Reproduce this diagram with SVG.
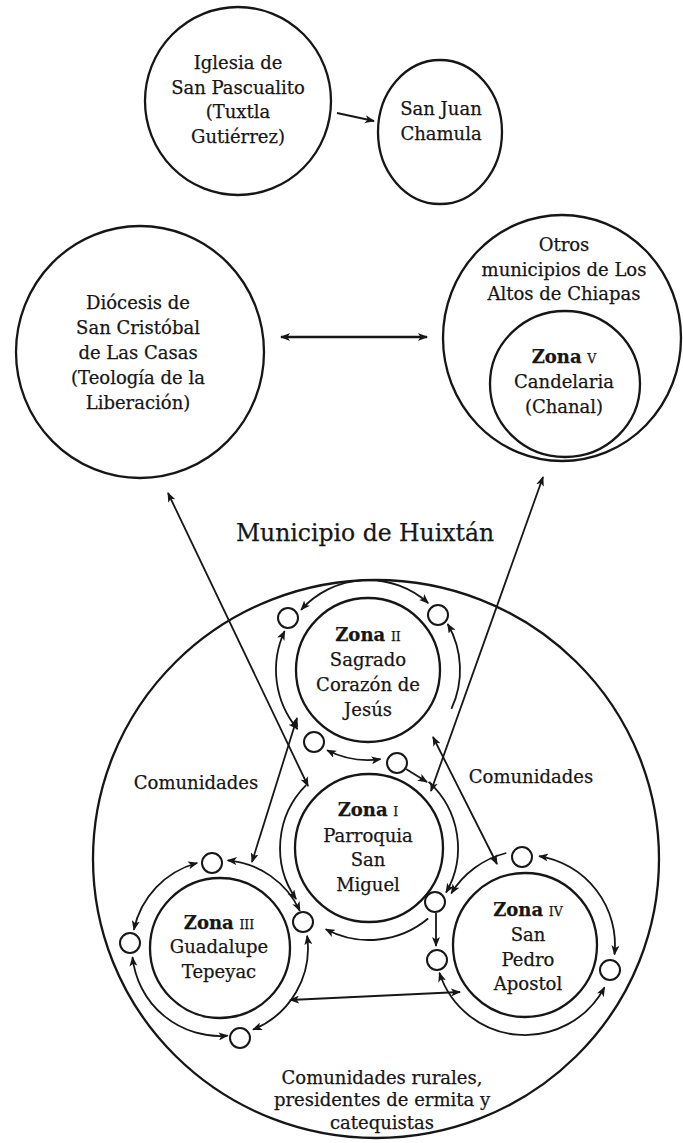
<svg xmlns="http://www.w3.org/2000/svg" width="683" height="1143" viewBox="0 0 683 1143">
<style>
.ln{fill:none;stroke:#161616;stroke-width:2.3}
.sm{fill:#fff;stroke:#161616;stroke-width:2}
.ar{fill:none;stroke:#161616;stroke-width:1.8}
.t{font-family:"DejaVu Serif","Liberation Serif",serif;font-size:18px;fill:#161616;stroke:#161616;stroke-width:0.25;text-anchor:middle}
.b{font-weight:bold}
.sc{font-size:12.5px}
</style>
<defs>
<marker id="ah" viewBox="0 0 10 8" refX="9" refY="4" markerWidth="10" markerHeight="8" markerUnits="userSpaceOnUse" orient="auto-start-reverse">
<path d="M0,0 L10,4 L0,8 L2.5,4 z" fill="#161616"/>
</marker>
</defs>
<rect width="683" height="1143" fill="#fff"/>

<g id="iglesia">
<ellipse class="ln" cx="238" cy="101" rx="93" ry="94"/>
<text class="t" x="238" y="69">Iglesia de</text>
<text class="t" x="238" y="94">San Pascualito</text>
<text class="t" x="238" y="118">(Tuxtla</text>
<text class="t" x="238" y="143">Gutiérrez)</text>
</g>
<g id="sanjuan">
<ellipse class="ln" cx="440" cy="132" rx="62" ry="72"/>
<text class="t" x="441" y="115">San Juan</text>
<text class="t" x="441" y="140">Chamula</text>
</g>
<g id="diocesis">
<ellipse class="ln" cx="140" cy="352" rx="124" ry="126"/>
<text class="t" x="138" y="309">Diócesis de</text>
<text class="t" x="138" y="334">San Cristóbal</text>
<text class="t" x="138" y="359">de Las Casas</text>
<text class="t" x="138" y="384">(Teología de la</text>
<text class="t" x="138" y="409">Liberación)</text>
</g>
<g id="otros">
<ellipse class="ln" cx="562" cy="338" rx="119" ry="123"/>
<text class="t" x="564" y="251">Otros</text>
<text class="t" x="564" y="276">municipios de Los</text>
<text class="t" x="564" y="300">Altos de Chiapas</text>
</g>
<g id="zona5">
<ellipse class="ln" cx="565" cy="384" rx="75" ry="73"/>
<text class="t" x="564" y="363"><tspan class="b">Zona</tspan> <tspan class="sc">V</tspan></text>
<text class="t" x="564" y="388">Candelaria</text>
<text class="t" x="564" y="413">(Chanal)</text>
</g>
<g id="huixtan">
<ellipse class="ln" cx="376" cy="859" rx="283" ry="279"/>
<text class="t" x="365" y="541" style="font-size:23.5px">Municipio de Huixtán</text>
<text class="t" x="196" y="789">Comunidades</text>
<text class="t" x="531" y="783">Comunidades</text>
<text class="t" x="382" y="1084">Comunidades rurales,</text>
<text class="t" x="382" y="1106">presidentes de ermita y</text>
<text class="t" x="382" y="1129">catequistas</text>
</g>
<g id="zona2">
<circle class="ln" cx="368" cy="670" r="72"/>
<text class="t" x="368" y="641"><tspan class="b">Zona</tspan> <tspan class="sc">II</tspan></text>
<text class="t" x="368" y="666">Sagrado</text>
<text class="t" x="368" y="691">Corazón de</text>
<text class="t" x="368" y="716">Jesús</text>
</g>
<g id="zona1">
<circle class="ln" cx="369" cy="848" r="74"/>
<text class="t" x="368" y="816"><tspan class="b">Zona</tspan> <tspan class="sc">I</tspan></text>
<text class="t" x="368" y="842">Parroquia</text>
<text class="t" x="368" y="866">San</text>
<text class="t" x="368" y="891">Miguel</text>
</g>
<g id="zona3">
<circle class="ln" cx="220" cy="948" r="70"/>
<text class="t" x="219" y="929"><tspan class="b">Zona</tspan> <tspan class="sc">III</tspan></text>
<text class="t" x="219" y="953">Guadalupe</text>
<text class="t" x="219" y="978">Tepeyac</text>
</g>
<g id="zona4">
<circle class="ln" cx="525" cy="945" r="72"/>
<text class="t" x="528" y="916"><tspan class="b">Zona</tspan> <tspan class="sc">IV</tspan></text>
<text class="t" x="528" y="941">San</text>
<text class="t" x="528" y="966">Pedro</text>
<text class="t" x="528" y="990">Apostol</text>
</g>

<g id="connectors">
<path class="ar" d="M337,113 L374,121" marker-end="url(#ah)"/>
<path class="ar" style="stroke-width:2.6" d="M281,337 L427,337" marker-start="url(#ah)" marker-end="url(#ah)"/>
<path class="ar" d="M168,493 L308,786" marker-start="url(#ah)" marker-end="url(#ah)"/>
<path class="ar" d="M543,477 L431,791" marker-start="url(#ah)" marker-end="url(#ah)"/>
<path class="ar" d="M297,718 L252,862" marker-start="url(#ah)" marker-end="url(#ah)"/>
<path class="ar" d="M433,737 L497,864" marker-start="url(#ah)" marker-end="url(#ah)"/>
<path class="ar" d="M290,1000 L460,992" marker-start="url(#ah)" marker-end="url(#ah)"/>
<path class="ar" d="M301.1,609.8 A90,90 0 0 1 428.2,603.1" marker-start="url(#ah)" marker-end="url(#ah)"/>
<path class="ar" d="M284.6,631.1 A92,92 0 0 0 297.5,729.1" marker-start="url(#ah)" marker-end="url(#ah)"/>
<path class="ar" d="M447.7,624 A92,92 0 0 1 451.4,708.9" marker-start="url(#ah)"/>
<path class="ar" d="M327.1,750.2 A90,90 0 0 0 380.5,759.1" marker-start="url(#ah)" marker-end="url(#ah)"/>
<path class="ar" d="M406,769 L427,782" marker-end="url(#ah)"/>
<path class="ar" d="M306.1,785.1 A89,89 0 0 0 296.1,899" marker-end="url(#ah)"/>
<path class="ar" d="M428.6,781.9 A89,89 0 0 1 446.1,892.5" marker-end="url(#ah)"/>
<path class="ar" d="M428.1,918.5 A92,92 0 0 1 325.8,929.2" marker-end="url(#ah)"/>
<path class="ar" d="M197.2,863 A88,88 0 0 0 133.9,929.7" marker-start="url(#ah)" marker-end="url(#ah)"/>
<path class="ar" d="M227.7,860.3 A88,88 0 0 1 299.8,910.8" marker-start="url(#ah)" marker-end="url(#ah)"/>
<path class="ar" d="M132.5,957.2 A88,88 0 0 0 227.7,1035.7" marker-start="url(#ah)" marker-end="url(#ah)"/>
<path class="ar" d="M307.1,935.8 A88,88 0 0 1 253,1029.6" marker-start="url(#ah)" marker-end="url(#ah)"/>
<path class="ar" d="M506.3,853 A90,90 0 0 0 451.3,893.4" marker-end="url(#ah)"/>
<path class="ar" d="M436,913 L436,946" marker-end="url(#ah)"/>
<path class="ar" d="M539.1,856.1 A90,90 0 0 1 614.5,954.4" marker-start="url(#ah)" marker-end="url(#ah)"/>
<path class="ar" d="M439.4,972.8 A90,90 0 0 0 604.5,987.3" marker-start="url(#ah)" marker-end="url(#ah)"/>
</g>

<g id="c2tl"><circle class="sm" cx="288" cy="618" r="10"/></g>
<g id="c2tr"><circle class="sm" cx="438" cy="615" r="10"/></g>
<g id="c2bl"><circle class="sm" cx="314" cy="742" r="10"/></g>
<g id="c2br"><circle class="sm" cx="397" cy="763" r="10"/></g>
<g id="c3t"><circle class="sm" cx="212" cy="863" r="10"/></g>
<g id="c3l"><circle class="sm" cx="130" cy="943" r="10"/></g>
<g id="c3r"><circle class="sm" cx="303" cy="922" r="10"/></g>
<g id="c3b"><circle class="sm" cx="240" cy="1038" r="10"/></g>
<g id="c4t"><circle class="sm" cx="522" cy="857" r="10"/></g>
<g id="c4lu"><circle class="sm" cx="435" cy="902" r="10"/></g>
<g id="c4ll"><circle class="sm" cx="437" cy="960" r="10"/></g>
<g id="c4r"><circle class="sm" cx="610" cy="970" r="10"/></g>
</svg>
